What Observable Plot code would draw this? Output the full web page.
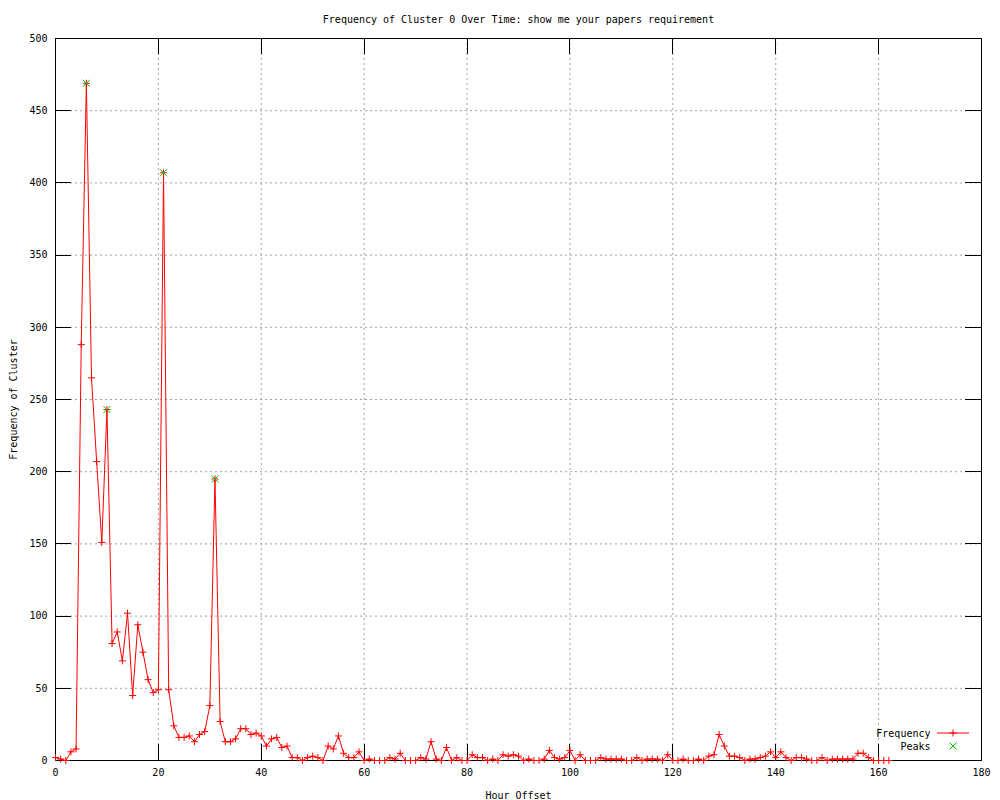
<!DOCTYPE html>
<html>
<head>
<meta charset="utf-8">
<script src="https://cdn.jsdelivr.net/npm/d3@7"></script>
<script src="https://cdn.jsdelivr.net/npm/@observablehq/plot@0.6"></script>
<style>
  html, body { margin: 0; padding: 0; background: #fff; }
  svg { display: block; }
</style>
</head>
<body>
<div id="chart"></div>
<script>
// Hourly frequency of Cluster 0, starting at hour offset 0
const frequency = [
  2, 1, 0, 6, 8, 288, 469, 265, 207, 151,
  243, 81, 89, 69, 102, 45, 94, 75, 56, 47,
  49, 407, 49, 24, 16, 16, 17, 13, 18, 20,
  38, 195, 27, 13, 13, 15, 22, 22, 18, 19,
  17, 10, 15, 16, 9, 10, 2, 2, 0, 2,
  3, 2, 0, 10, 8, 17, 5, 2, 2, 6,
  0, 1, 0, 0, 0, 2, 1, 5, 0, 0,
  0, 2, 1, 13, 1, 0, 9, 0, 2, 0,
  0, 4, 2, 2, 0, 1, 0, 4, 3, 4,
  3, 0, 1, 0, 0, 1, 7, 2, 1, 2,
  7, 0, 4, 0, 0, 0, 2, 1, 1, 1,
  1, 0, 0, 2, 0, 1, 1, 1, 0, 4,
  0, 0, 1, 0, 0, 1, 0, 3, 4, 18,
  10, 3, 3, 2, 0, 1, 1, 2, 3, 6,
  2, 6, 2, 0, 2, 2, 1, 0, 0, 2,
  0, 1, 1, 1, 1, 1, 5, 5, 2, 0,
  0, 0, 0
];
const peakHours = [6, 10, 21, 31];
const xTicks = [0, 20, 40, 60, 80, 100, 120, 140, 160, 180];
const yTicks = [0, 50, 100, 150, 200, 250, 300, 350, 400, 450, 500];
const titleText = "Frequency of Cluster 0 Over Time: show me your papers requirement";
const xLabel = "Hour Offset";
const yLabel = "Frequency of Cluster";
const legendLabels = ["Frequency", "Peaks"];

const series = frequency.map((v, i) => ({hour: i, value: v}));
const peaks = peakHours.map(h => ({hour: h, value: frequency[h]}));

const RED = "#ff0000";
const GREEN = "#00c000";

const plusSymbol = {
  draw(context, size) {
    const r = Math.sqrt(size / Math.PI);
    context.moveTo(-r, 0); context.lineTo(r, 0);
    context.moveTo(0, -r); context.lineTo(0, r);
  }
};
const timesSymbol = {
  draw(context, size) {
    const r = Math.sqrt(size / Math.PI);
    context.moveTo(-r, -r); context.lineTo(r, r);
    context.moveTo(-r, r); context.lineTo(r, -r);
  }
};

const W = 1000, H = 800;
const mL = 55, mR = 19, mT = 38, mB = 40;
const frameW = W - mL - mR, frameH = H - mT - mB;
const tickLen = 16;

const chart = Plot.plot({
  width: W,
  height: H,
  marginLeft: mL,
  marginRight: mR,
  marginTop: mT,
  marginBottom: mB,
  style: {fontFamily: "'DejaVu Sans Mono', monospace", fontSize: "10px", background: "#fff", color: "#000", overflow: "visible"},
  x: {domain: [0, 180]},
  y: {domain: [0, 500]},
  marks: [
    Plot.gridX(xTicks.slice(1, -1), {stroke: "#a0a0a0", strokeOpacity: 1, strokeDasharray: "2,3"}),
    Plot.gridY(yTicks.slice(1, -1), {stroke: "#a0a0a0", strokeOpacity: 1, strokeDasharray: "2,3"}),
    Plot.tickX(xTicks, {x: d => d, insetTop: frameH - tickLen, stroke: "#000", shapeRendering: "crispEdges"}),
    Plot.tickX(xTicks, {x: d => d, insetBottom: frameH - tickLen, stroke: "#000", shapeRendering: "crispEdges"}),
    Plot.tickY(yTicks, {y: d => d, insetRight: frameW - tickLen, stroke: "#000", shapeRendering: "crispEdges"}),
    Plot.tickY(yTicks, {y: d => d, insetLeft: frameW - tickLen, stroke: "#000", shapeRendering: "crispEdges"}),
    Plot.axisX(xTicks, {tickSize: 0, tickPadding: 8, label: xLabel, labelAnchor: "center", labelArrow: "none", labelOffset: 38}),
    Plot.axisY(yTicks, {tickSize: 0, tickPadding: 8, label: yLabel, labelAnchor: "center", labelArrow: "none", labelOffset: 46}),
    Plot.frame({stroke: "#000", shapeRendering: "crispEdges"}),
    Plot.line(series, {x: "hour", y: "value", stroke: RED, strokeWidth: 1}),
    Plot.dot(series, {x: "hour", y: "value", symbol: plusSymbol, r: 3.5, stroke: RED, strokeWidth: 1, fill: "none"}),
    Plot.dot(peaks, {x: "hour", y: "value", symbol: timesSymbol, r: 3.5, stroke: GREEN, strokeWidth: 1, fill: "none"}),
    Plot.text([titleText], {text: d => d, frameAnchor: "top", dy: -19, lineAnchor: "middle", fill: "#000"}),
    Plot.text([legendLabels[0]], {text: d => d, frameAnchor: "bottom-right", dx: -51, dy: -27, textAnchor: "end", lineAnchor: "middle", fill: "#000"}),
    Plot.text([legendLabels[1]], {text: d => d, frameAnchor: "bottom-right", dx: -51, dy: -14, textAnchor: "end", lineAnchor: "middle", fill: "#000"})
  ]
});

// Legend samples (line + markers), placed in the lower-right of the frame
const svg = d3.select(chart);
const lx = W - mR - 28, ly1 = H - mB - 27, ly2 = H - mB - 14;
const g = svg.append("g").attr("fill", "none").attr("stroke-width", 1);
g.append("line").attr("x1", lx - 16).attr("x2", lx + 16).attr("y1", ly1).attr("y2", ly1).attr("stroke", RED);
g.append("path").attr("transform", `translate(${lx},${ly1})`).attr("d", d3.symbol(plusSymbol, 3.5 * 3.5 * Math.PI)()).attr("stroke", RED);
g.append("path").attr("transform", `translate(${lx},${ly2})`).attr("d", d3.symbol(timesSymbol, 3.5 * 3.5 * Math.PI)()).attr("stroke", GREEN);

document.getElementById("chart").appendChild(chart);
</script>
</body>
</html>
